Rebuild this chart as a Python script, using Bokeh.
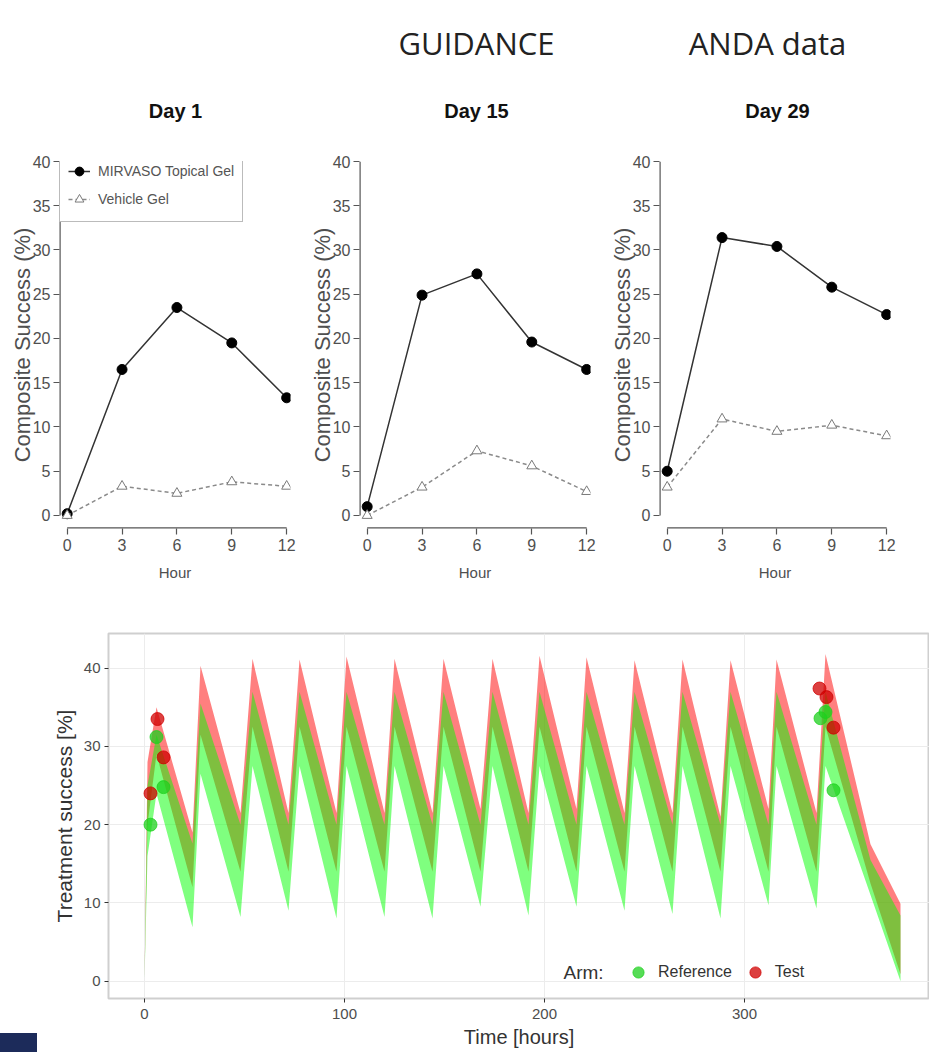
from bokeh.plotting import figure
from bokeh.layouts import column, row
from bokeh.models import Range1d, Legend, LegendItem, Label, FixedTicker, Div
from bokeh.embed import file_html
from bokeh.resources import INLINE
from bokeh.core.properties import value

# ---------------- data ----------------
header_texts = ["GUIDANCE", "ANDA data"]
day_titles = ["Day 1", "Day 15", "Day 29"]

hours = [0, 3, 6, 9, 12]
day1_mirvaso = [0.2, 16.5, 23.5, 19.5, 13.3]
day1_vehicle = [0.0, 3.3, 2.5, 3.8, 3.3]
day15_mirvaso = [1.0, 24.9, 27.3, 19.6, 16.5]
day15_vehicle = [0.0, 3.2, 7.3, 5.6, 2.7]
day29_mirvaso = [5.0, 31.4, 30.4, 25.8, 22.7]
day29_vehicle = [3.2, 10.9, 9.5, 10.2, 9.0]
top_x_ticks = [0, 3, 6, 9, 12]
top_y_ticks = [0, 5, 10, 15, 20, 25, 30, 35, 40]
series_names = ["MIRVASO Topical Gel", "Vehicle Gel"]

sim_time = [0, 1.5, 6, 24, 28, 48, 54, 72, 77.5, 96, 101, 120, 125, 144, 149.5,
            168, 174, 192, 197.5, 216, 221, 240, 245, 264, 269, 288, 293, 312, 316,
            336, 340.5, 363, 378]
test_upper = [0, 28, 35, 19, 40.3, 21.5, 41.2, 21.5, 41.1, 21.5, 41.5, 21.5, 41.2,
              21.5, 41.2, 22, 41.2, 21.5, 41.6, 22, 41.4, 21.5, 41.0, 21.5, 41.1,
              21, 41.0, 22, 41.1, 21.5, 41.8, 17.5, 9.9]
test_lower = [0, 20, 29, 12, 31.5, 14, 32.5, 14, 32.5, 14, 32.5, 14, 32.5, 14, 32.5,
              14, 32.5, 14, 32.5, 14, 32.5, 14, 32.5, 14, 32.5, 14, 32.5, 14, 32.5,
              14, 32.5, 12.5, 0.9]
ref_upper = [0, 25, 31.5, 17.6, 35.5, 20, 37, 20, 37, 20, 37, 20, 37, 20, 37,
             20, 37, 20, 37, 20, 37, 20, 37, 20, 37, 20, 37, 20, 37, 20, 37, 15.5, 8.4]
ref_lower = [0, 16, 24, 6.9, 26.5, 8.2, 27.5, 9.0, 27.5, 8.0, 27.5, 8.2, 27.5, 8.0, 27.5,
             9.5, 27.5, 8.4, 27.5, 9.5, 27.5, 9.0, 27.5, 8.6, 27.5, 8.0, 27.5, 9.7, 27.5,
             9.3, 27.5, 11, 0]

ref_obs_time = [3, 6, 9.5, 338, 340.5, 344.5]
ref_obs = [20.0, 31.2, 24.8, 33.6, 34.4, 24.4]
test_obs_time = [3, 6.5, 9.5, 337.5, 341, 344.5]
test_obs = [24.0, 33.5, 28.6, 37.4, 36.3, 32.4]

bottom_x_ticks = [0, 100, 200, 300]
bottom_y_ticks = [0, 10, 20, 30, 40]
arm_names = ["Reference", "Test"]

FONT = "Liberation Sans"

# ---------------- header (data units = page pixels) ----------------
head = figure(width=929, height=125, x_range=Range1d(108, 929), y_range=Range1d(125, 0),
              x_axis_type=None, y_axis_type=None, output_backend="svg",
              toolbar_location=None, min_border_left=108, min_border_right=0,
              min_border_top=0, min_border_bottom=0)
head.grid.visible = False
head.outline_line_color = None
head.text(x=[476, 767], y=[42, 42], text=header_texts, text_font=value("Open Sans"),
          text_font_size="31px", text_align="center", text_baseline="middle",
          text_color="#222222")
head.text(x=[175, 476, 777], y=[110, 110, 110], text=day_titles, text_font=value(FONT),
          text_font_size="20px", text_font_style="bold", text_align="center",
          text_baseline="middle", text_color="#111111")


def day_panel(mirvaso, vehicle, width, right_border, with_legend):
    xr = Range1d(-0.42, 12.21)
    yr = Range1d(-1.47, 40.0)
    p = figure(width=width, height=475, x_range=xr, y_range=yr,
               output_backend="svg", toolbar_location=None,
               min_border_left=59, min_border_right=right_border, min_border_top=36,
               min_border_bottom=72)
    p.grid.visible = False
    p.outline_line_color = None
    p.xaxis.ticker = FixedTicker(ticks=top_x_ticks)
    p.yaxis.ticker = FixedTicker(ticks=top_y_ticks)
    for ax in (p.xaxis, p.yaxis):
        ax.axis_line_color = None
        ax.major_tick_line_color = "#555555"
        ax.major_tick_line_width = 1.2
        ax.major_tick_out = 6
        ax.major_tick_in = 0
        ax.minor_tick_line_color = None
        ax.major_label_text_font = FONT
        ax.major_label_text_font_size = "16px"
        ax.major_label_text_color = "#4f4f4f"
        ax.axis_label_text_font = FONT
        ax.axis_label_text_font_style = "normal"
        ax.axis_label_text_color = "#4f4f4f"
    p.xaxis.axis_label = "Hour"
    p.xaxis.axis_label_text_font_size = "15px"
    p.xaxis.major_label_standoff = 4
    p.xaxis.axis_label_standoff = 10
    p.yaxis.axis_label = "Composite Success (%)"
    p.yaxis.axis_label_text_font_size = "22px"
    p.yaxis.major_label_standoff = 3
    p.yaxis.axis_label_standoff = -5

    # R-style axis spines spanning only first..last tick (half clipped at frame edge)
    p.segment(x0=[xr.start, top_x_ticks[0]], y0=[top_y_ticks[0], yr.start],
              x1=[xr.start, top_x_ticks[-1]], y1=[top_y_ticks[-1], yr.start],
              line_color="#555555", line_width=2.4)

    l1 = p.line(hours, mirvaso, line_color="#333333", line_width=1.5)
    s1 = p.scatter(hours, mirvaso, marker="circle", size=10, fill_color="black",
                   line_color="black")
    l2 = p.line(hours, vehicle, line_color="#8a8a8a", line_width=1.5, line_dash="4 3")
    s2 = p.scatter(hours, vehicle, marker="triangle", size=10, fill_color="white",
                   line_color="#7a7a7a", line_width=1)
    if with_legend:
        leg = Legend(items=[LegendItem(label=series_names[0], renderers=[l1, s1]),
                            LegendItem(label=series_names[1], renderers=[l2, s2])],
                     location=(0, 306), orientation="vertical", padding=8, margin=0,
                     spacing=0, glyph_width=22, glyph_height=28, label_height=28,
                     label_standoff=8, border_line_color="#777777", border_line_width=1.5,
                     background_fill_color="white", background_fill_alpha=1,
                     label_text_font=FONT, label_text_font_size="14px",
                     label_text_color="#555555")
        p.add_layout(leg)
    return p


f1 = day_panel(day1_mirvaso, day1_vehicle, 300, 10, True)
f2 = day_panel(day15_mirvaso, day15_vehicle, 300, 10, False)
f3 = day_panel(day29_mirvaso, day29_vehicle, 329, 39, False)

# ---------------- bottom panel ----------------
strip = Div(text='<div style="width:37px;height:19px;background:#1c2b5a;'
                 'margin-top:433px;"></div>', width=37, height=452,
            styles={"margin": "0", "padding": "0"})

b = figure(width=892, height=452, x_range=Range1d(-18, 392.5), y_range=Range1d(-2.21, 44.43),
           output_backend="svg", toolbar_location=None, min_border_left=71,
           min_border_right=0, min_border_top=33, min_border_bottom=54)
b.outline_line_color = "#cfcfcf"
b.outline_line_width = 2
b.xgrid.grid_line_color = "#ececec"
b.ygrid.grid_line_color = "#ececec"
b.xaxis.ticker = FixedTicker(ticks=bottom_x_ticks)
b.yaxis.ticker = FixedTicker(ticks=bottom_y_ticks)
for ax in (b.xaxis, b.yaxis):
    ax.axis_line_color = None
    ax.major_tick_line_color = "#333333"
    ax.major_tick_out = 4
    ax.major_tick_in = 0
    ax.minor_tick_line_color = None
    ax.major_label_text_font = FONT
    ax.major_label_text_font_size = "15px"
    ax.major_label_text_color = "#4d4d4d"
    ax.axis_label_text_font = FONT
    ax.axis_label_text_font_style = "normal"
    ax.axis_label_text_color = "#333333"
b.xaxis.axis_label = "Time [hours]"
b.xaxis.axis_label_text_font_size = "20px"
b.xaxis.major_label_standoff = 6
b.xaxis.axis_label_standoff = 4
b.yaxis.axis_label = "Treatment success [%]"
b.yaxis.axis_label_text_font_size = "21px"
b.yaxis.major_label_standoff = 4
b.yaxis.axis_label_standoff = 5

b.varea(x=sim_time, y1=test_lower, y2=test_upper, fill_color="#ff0000", fill_alpha=0.5)
b.varea(x=sim_time, y1=ref_lower, y2=ref_upper, fill_color="#00ff00", fill_alpha=0.5)
ref_dots = b.scatter(ref_obs_time, ref_obs, marker="circle", size=13, fill_color="#1ed01e",
                     line_color="#1ed01e", fill_alpha=0.75, line_alpha=0.75)
test_dots = b.scatter(test_obs_time, test_obs, marker="circle", size=13, fill_color="#d00000",
                      line_color="#d00000", fill_alpha=0.75, line_alpha=0.75)

arm_leg = Legend(items=[LegendItem(label=arm_names[0], renderers=[ref_dots]),
                        LegendItem(label=arm_names[1], renderers=[test_dots])],
                 location=(516, 11), orientation="horizontal", padding=0, margin=0,
                 spacing=9, label_standoff=6, glyph_width=28, glyph_height=30,
                 border_line_color=None, background_fill_alpha=0,
                 label_text_font=FONT, label_text_font_size="16px",
                 label_text_color="#333333")
b.add_layout(arm_leg)
b.add_layout(Label(x=455, y=26, x_units="screen", y_units="screen", text="Arm:",
                   text_font=FONT, text_font_size="19px", text_color="#333333",
                   text_baseline="middle"))

layout = column(head, row(f1, f2, f3), row(strip, b))
open("out.html", "w").write(file_html(layout, INLINE))
